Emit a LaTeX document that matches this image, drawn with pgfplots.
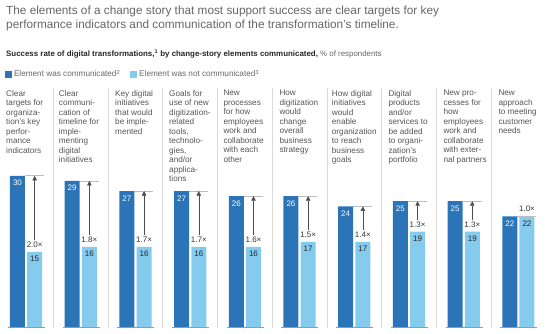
\documentclass[border=0pt]{standalone}
\usepackage{pgfplots}
\pgfplotsset{compat=1.18}
\usetikzlibrary{arrows.meta}
\usepackage{fontspec}
\setmainfont{Liberation Sans}
\definecolor{dkblue}{HTML}{2B74B8}
\definecolor{ltblue}{HTML}{84CBEE}
\definecolor{ttl}{HTML}{666666}
\definecolor{lbl}{HTML}{555555}
\definecolor{sepc}{HTML}{DADADA}
\definecolor{basec}{HTML}{9A9A9A}
\definecolor{refc}{HTML}{BDBDBD}
\begin{document}
\begin{tikzpicture}[x=1pt,y=1pt]
\path[use as bounding box] (0,0) rectangle (547,334);
\begin{axis}[at={(0,0)}, anchor=south west, scale only axis,
  width=547pt, height=334pt,
  xmin=-0.477, xmax=9.523, ymin=-1.1834, ymax=64.694,
  axis lines=none, xtick=\empty, ytick=\empty, clip=false,
  /pgf/number format/assume math mode=true,
  legend columns=2, legend cell align=left,
  legend image code/.code={\fill[#1] (0pt,-3.5pt) rectangle (7pt,3.5pt);},
  legend style={draw=none, fill=none, inner sep=0pt, outer sep=0pt,
    at={(5/547,266/334)}, anchor=north west,
    font=\fontsize{8.2}{9}\selectfont, text=ttl,
    nodes={inner sep=2pt},
    /tikz/every even column/.append style={column sep=8pt}},
]
% separators
\addplot[sepc, line width=0.8pt, unbounded coords=jump, forget plot] coordinates {
 (0.5,0) (0.5,47.3) (nan,nan) (1.5,0) (1.5,47.3) (nan,nan)
 (2.5,0) (2.5,47.3) (nan,nan) (3.5,0) (3.5,47.3) (nan,nan)
 (4.5,0) (4.5,47.3) (nan,nan) (5.5,0) (5.5,47.3) (nan,nan)
 (6.5,0) (6.5,47.3) (nan,nan) (7.5,0) (7.5,47.3) (nan,nan)
 (8.5,0) (8.5,47.3)};
% bars
\addplot[ybar, bar width=15pt, bar shift=-8.6pt, fill=dkblue, draw=none,
  nodes near coords,
  every node near coord/.append style={anchor=base, xshift=-8.6pt, yshift=-10pt, text=white, font=\fontsize{8}{9}\selectfont}]
 coordinates {(0,30) (1,29) (2,27) (3,27) (4,26) (5,26) (6,24) (7,25) (8,25) (9,22)};
\addlegendentry{Element was communicated\textsuperscript{2}}
\addplot[ybar, bar width=15pt, bar shift=8.6pt, fill=ltblue, draw=none,
  nodes near coords,
  every node near coord/.append style={anchor=base, xshift=8.6pt, yshift=-10pt, text=black!85, font=\fontsize{8}{9}\selectfont}]
 coordinates {(0,15) (1,16) (2,16) (3,16) (4,16) (5,17) (6,17) (7,19) (8,19) (9,22)};
\addlegendentry{Element was not communicated\textsuperscript{3}}
% baselines
\addplot[basec, line width=1pt, unbounded coords=jump, forget plot] coordinates {
 (-0.331,0) (0.345,0) (nan,nan) (0.669,0) (1.345,0) (nan,nan)
 (1.669,0) (2.345,0) (nan,nan) (2.669,0) (3.345,0) (nan,nan)
 (3.669,0) (4.345,0) (nan,nan) (4.669,0) (5.345,0) (nan,nan)
 (5.669,0) (6.345,0) (nan,nan) (6.669,0) (7.345,0) (nan,nan)
 (7.669,0) (8.345,0) (nan,nan) (8.669,0) (9.345,0)};
% reference lines at top of dark bars
\addplot[refc, line width=0.8pt, unbounded coords=jump, forget plot] coordinates {
 (-0.02,30) (0.327,30) (nan,nan) (0.98,29) (1.327,29) (nan,nan)
 (1.98,27) (2.327,27) (nan,nan) (2.98,27) (3.327,27) (nan,nan)
 (3.98,26) (4.327,26) (nan,nan) (4.98,26) (5.327,26) (nan,nan)
 (5.98,24) (6.327,24) (nan,nan) (6.98,25) (7.327,25) (nan,nan)
 (7.98,25) (8.327,25) (nan,nan) (8.98,22) (9.327,22)};
% arrows
\addplot[black!70, line width=0.5pt, -{Triangle[length=4.5pt,width=4.5pt]}, forget plot,
  quiver={u=0, v=\thisrow{v}}] table {
x y v
0.157 17.27 12.73
1.157 18.27 10.73
2.157 18.27 8.73
3.157 18.27 8.73
4.157 18.27 7.73
5.157 19.27 6.73
6.157 19.27 4.73
7.157 21.27 3.73
8.157 21.27 3.73
};
% multiplier labels
\addplot[draw=none, mark=none, forget plot, nodes near coords, point meta=explicit symbolic,
  every node near coord/.append style={anchor=base, text=black!80, font=\fontsize{8}{9}\selectfont}]
 coordinates {(0.157,15.9) [2.0×] (1.157,16.9) [1.8×] (2.157,16.9) [1.7×] (3.157,16.9) [1.7×]
  (4.157,16.9) [1.6×] (5.157,17.9) [1.5×] (6.157,17.9) [1.4×] (7.157,19.9) [1.3×]
  (8.157,19.9) [1.3×] (9.157,22.9) [1.0×]};
\end{axis}
% titles
\node[anchor=base west, inner sep=0, text=ttl, font=\fontsize{11.8}{14}\selectfont] at (6,319) {The elements of a change story that most support success are clear targets for key};
\node[anchor=base west, inner sep=0, text=ttl, font=\fontsize{11.8}{14}\selectfont] at (6,305) {performance indicators and communication of the transformation’s timeline.};
\node[anchor=base west, inner sep=0, font=\fontsize{7.9}{9}\selectfont] at (6,277.3) {\textbf{\color{black!85}Success rate of digital transformations,\textsuperscript{1} by change-story elements communicated,} \color{ttl}\% of respondents};
% category labels
\begin{scope}[every node/.style={anchor=north west, inner sep=0, align=left, text=lbl, font=\fontsize{8.2}{9.5}\selectfont}]
\node at (6,244) {Clear\\targets for\\organiza-\\tion’s key\\perfor-\\mance\\indicators};
\node at (58.7,244) {Clear\\communi-\\cation of\\timeline for\\imple-\\menting\\digital\\initiatives};
\node at (115,244) {Key digital\\initiatives\\that would\\be imple-\\mented};
\node at (169,244) {Goals for\\use of new\\digitization-\\related\\tools,\\technolo-\\gies,\\and/or\\applica-\\tions};
\node at (223.3,244) {New\\processes\\for how\\employees\\work and\\collaborate\\with each\\other};
\node at (279.3,244) {How\\digitization\\would\\change\\overall\\business\\strategy};
\node at (331.7,244) {How digital\\initiatives\\would\\enable\\organization\\to reach\\business\\goals};
\node at (388.3,244) {Digital\\products\\and/or\\services to\\be added\\to organi-\\zation’s\\portfolio};
\node at (443.3,244) {New pro-\\cesses for\\how\\employees\\work and\\collaborate\\with exter-\\nal partners};
\node at (498.3,244) {New\\approach\\to meeting\\customer\\needs};
\end{scope}
\end{tikzpicture}
\end{document}
